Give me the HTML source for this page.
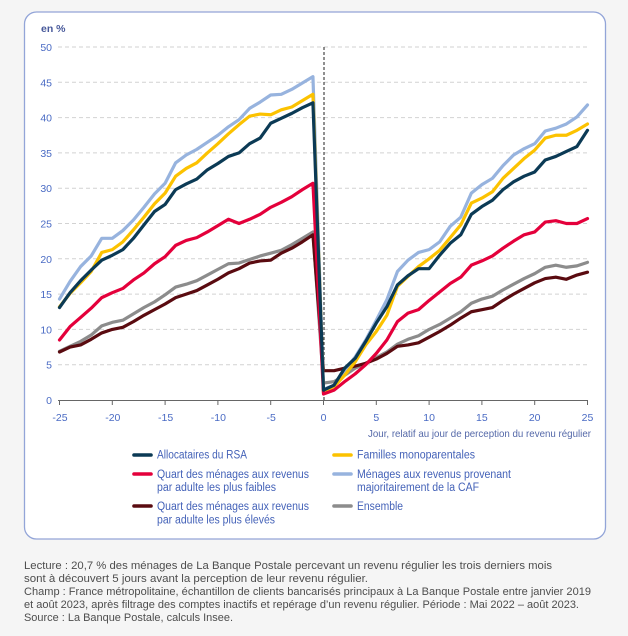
<!DOCTYPE html>
<html><head><meta charset="utf-8">
<style>
html,body{margin:0;padding:0;background:#f5f5f5;}
svg{display:block;}
text{font-family:"Liberation Sans",Arial,sans-serif;}
</style></head>
<body>
<svg width="628" height="636" viewBox="0 0 628 636" xmlns="http://www.w3.org/2000/svg">
<rect x="0" y="0" width="628" height="636" fill="#f5f5f5"/>
<rect x="24.5" y="12" width="581" height="527" rx="12" ry="12" fill="#ffffff" stroke="#93a5d8" stroke-width="1.3"/>

<text x="41" y="32" font-size="10.5" font-weight="bold" fill="#47589a">en %</text>

<!-- gridlines -->
<g stroke="#d2d2d2" stroke-width="1" stroke-dasharray="4,3">
<line x1="58" x2="588" y1="364.7" y2="364.7"/>
<line x1="58" x2="588" y1="329.4" y2="329.4"/>
<line x1="58" x2="588" y1="294.1" y2="294.1"/>
<line x1="58" x2="588" y1="258.8" y2="258.8"/>
<line x1="58" x2="588" y1="223.5" y2="223.5"/>
<line x1="58" x2="588" y1="188.2" y2="188.2"/>
<line x1="58" x2="588" y1="152.9" y2="152.9"/>
<line x1="58" x2="588" y1="117.6" y2="117.6"/>
<line x1="58" x2="588" y1="82.3" y2="82.3"/>
<line x1="58" x2="588" y1="47" y2="47"/>
</g>

<!-- y labels -->
<g font-size="10.5" fill="#4a6bc4" text-anchor="end">
<text x="52" y="404">0</text>
<text x="52" y="368.7">5</text>
<text x="52" y="333.4">10</text>
<text x="52" y="298.1">15</text>
<text x="52" y="262.8">20</text>
<text x="52" y="227.5">25</text>
<text x="52" y="192.2">30</text>
<text x="52" y="156.9">35</text>
<text x="52" y="121.6">40</text>
<text x="52" y="86.3">45</text>
<text x="52" y="51">50</text>
</g>

<!-- zero dashed vertical -->
<line x1="324" x2="324" y1="47" y2="400" stroke="#222" stroke-width="1" stroke-dasharray="3,2"/>

<!-- series -->
<g transform="matrix(10.56 0 0 -7.06 323.5 400)" fill="none" stroke-linejoin="round" stroke-linecap="round">
<polyline vector-effect="non-scaling-stroke" stroke="#8c8c8c" stroke-width="3.2" points="-25,6.9 -24,7.6 -23,8.3 -22,9.2 -21,10.5 -20,11.0 -19,11.3 -18,12.2 -17,13.1 -16,13.9 -15,14.9 -14,16.0 -13,16.4 -12,16.9 -11,17.7 -10,18.5 -9,19.3 -8,19.4 -7,19.9 -6,20.4 -5,20.8 -4,21.2 -3,22.0 -2,22.9 -1,23.8 0,2.4 1,2.6 2,3.5 3,4.5 4,5.2 5,6.0 6,6.8 7,7.9 8,8.6 9,9.1 10,10.0 11,10.7 12,11.6 13,12.5 14,13.7 15,14.3 16,14.7 17,15.6 18,16.4 19,17.2 20,17.9 21,18.8 22,19.1 23,18.8 24,19.0 25,19.5"/>
<polyline vector-effect="non-scaling-stroke" stroke="#5a0b10" stroke-width="3.2" points="-25,6.8 -24,7.5 -23,7.8 -22,8.6 -21,9.5 -20,10.0 -19,10.3 -18,11.1 -17,12.0 -16,12.8 -15,13.6 -14,14.5 -13,15.0 -12,15.5 -11,16.3 -10,17.1 -9,18.0 -8,18.6 -7,19.4 -6,19.7 -5,19.8 -4,20.8 -3,21.5 -2,22.4 -1,23.4 0,4.15 1,4.15 2,4.5 3,4.8 4,5.2 5,5.8 6,6.6 7,7.6 8,7.8 9,8.1 10,8.9 11,9.7 12,10.6 13,11.6 14,12.5 15,12.8 16,13.1 17,14.1 18,15.0 19,15.8 20,16.6 21,17.2 22,17.4 23,17.1 24,17.7 25,18.1"/>
<polyline vector-effect="non-scaling-stroke" stroke="#97b3de" stroke-width="3.2" points="-25,14.3 -24,16.8 -23,18.9 -22,20.4 -21,22.9 -20,22.9 -19,24.0 -18,25.5 -17,27.3 -16,29.2 -15,30.7 -14,33.6 -13,34.7 -12,35.5 -11,36.5 -10,37.5 -9,38.7 -8,39.7 -7,41.3 -6,42.2 -5,43.2 -4,43.3 -3,44.0 -2,44.9 -1,45.8 0,1.5 1,2.1 2,4.2 3,6.1 4,8.5 5,11.3 6,14.2 7,18.2 8,19.8 9,20.9 10,21.3 11,22.4 12,24.6 13,25.9 14,29.3 15,30.5 16,31.4 17,33.2 18,34.7 19,35.6 20,36.3 21,38.1 22,38.5 23,39.1 24,40.1 25,41.8"/>
<polyline vector-effect="non-scaling-stroke" stroke="#fcc200" stroke-width="3.2" points="-25,13.2 -24,15.1 -23,16.6 -22,18.2 -21,20.9 -20,21.3 -19,22.4 -18,24.1 -17,25.9 -16,27.8 -15,29.3 -14,31.7 -13,32.8 -12,33.6 -11,35.0 -10,36.3 -9,37.7 -8,39.0 -7,40.2 -6,40.5 -5,40.4 -4,41.1 -3,41.5 -2,42.4 -1,43.3 0,1.0 1,1.9 2,3.5 3,5.4 4,7.8 5,9.7 6,12.0 7,16.1 8,17.5 9,18.9 10,20.0 11,21.2 12,23.0 13,24.8 14,27.9 15,28.6 16,29.5 17,31.4 18,32.8 19,34.2 20,35.4 21,37.1 22,37.5 23,37.5 24,38.2 25,39.1"/>
<polyline vector-effect="non-scaling-stroke" stroke="#e4003b" stroke-width="3.2" points="-25,8.5 -24,10.4 -23,11.7 -22,13.0 -21,14.5 -20,15.2 -19,15.8 -18,17.0 -17,18.0 -16,19.3 -15,20.3 -14,21.9 -13,22.6 -12,23.0 -11,23.8 -10,24.7 -9,25.6 -8,25.0 -7,25.6 -6,26.3 -5,27.3 -4,28.0 -3,28.8 -2,29.8 -1,30.7 0,0.85 1,1.4 2,2.6 3,3.7 4,5.0 5,6.6 6,8.5 7,11.1 8,12.3 9,12.8 10,14.1 11,15.3 12,16.5 13,17.4 14,19.1 15,19.7 16,20.4 17,21.5 18,22.5 19,23.4 20,23.8 21,25.2 22,25.4 23,25.0 24,25.0 25,25.7"/>
<polyline vector-effect="non-scaling-stroke" stroke="#0b3a55" stroke-width="3.2" points="-25,13.1 -24,15.2 -23,16.9 -22,18.4 -21,19.8 -20,20.5 -19,21.3 -18,22.9 -17,24.8 -16,26.7 -15,27.7 -14,29.8 -13,30.6 -12,31.3 -11,32.6 -10,33.5 -9,34.5 -8,35.0 -7,36.3 -6,37.1 -5,39.2 -4,39.9 -3,40.6 -2,41.4 -1,42.1 0,1.4 1,2.1 2,4.5 3,5.9 4,8.3 5,10.9 6,13.2 7,16.3 8,17.6 9,18.6 10,18.6 11,20.5 12,22.2 13,23.4 14,26.3 15,27.4 16,28.3 17,29.8 18,30.9 19,31.7 20,32.3 21,34.0 22,34.5 23,35.2 24,35.9 25,38.2"/>
</g>

<!-- x axis -->
<line x1="58" x2="588" y1="400.5" y2="400.5" stroke="#666" stroke-width="1"/>
<g stroke="#666" stroke-width="1">
<line x1="59.5" x2="59.5" y1="400" y2="405"/>
<line x1="112.3" x2="112.3" y1="400" y2="405"/>
<line x1="165.1" x2="165.1" y1="400" y2="405"/>
<line x1="217.9" x2="217.9" y1="400" y2="405"/>
<line x1="270.7" x2="270.7" y1="400" y2="405"/>
<line x1="323.5" x2="323.5" y1="400" y2="405"/>
<line x1="376.3" x2="376.3" y1="400" y2="405"/>
<line x1="429.1" x2="429.1" y1="400" y2="405"/>
<line x1="481.9" x2="481.9" y1="400" y2="405"/>
<line x1="534.7" x2="534.7" y1="400" y2="405"/>
<line x1="587.5" x2="587.5" y1="400" y2="405"/>
</g>
<g font-size="10.5" fill="#4a6bc4" text-anchor="middle">
<text x="60" y="421">-25</text>
<text x="112.8" y="421">-20</text>
<text x="165.6" y="421">-15</text>
<text x="218.4" y="421">-10</text>
<text x="271.2" y="421">-5</text>
<text x="323.5" y="421">0</text>
<text x="376.3" y="421">5</text>
<text x="429.1" y="421">10</text>
<text x="481.9" y="421">15</text>
<text x="534.7" y="421">20</text>
<text x="587.5" y="421">25</text>
</g>
<text x="368" y="437" font-size="10.5" fill="#5468a8" textLength="223" lengthAdjust="spacingAndGlyphs">Jour, relatif au jour de perception du revenu régulier</text>

<!-- legend -->
<g stroke-width="3.6" stroke-linecap="round">
<line x1="134" x2="151" y1="455" y2="455" stroke="#0b3a55"/>
<line x1="334" x2="351" y1="455" y2="455" stroke="#fcc200"/>
<line x1="134" x2="151" y1="474" y2="474" stroke="#e4003b"/>
<line x1="334" x2="351" y1="474" y2="474" stroke="#97b3de"/>
<line x1="134" x2="151" y1="506" y2="506" stroke="#5a0b10"/>
<line x1="334" x2="351" y1="506" y2="506" stroke="#8c8c8c"/>
</g>
<g font-size="11.5" fill="#4462b8">
<text x="157" y="458.5" textLength="90" lengthAdjust="spacingAndGlyphs">Allocataires du RSA</text>
<text x="357" y="458.5" textLength="118" lengthAdjust="spacingAndGlyphs">Familles monoparentales</text>
<text x="157" y="478" textLength="152" lengthAdjust="spacingAndGlyphs">Quart des ménages aux revenus</text>
<text x="157" y="491" textLength="119" lengthAdjust="spacingAndGlyphs">par adulte les plus faibles</text>
<text x="357" y="478" textLength="154" lengthAdjust="spacingAndGlyphs">Ménages aux revenus provenant</text>
<text x="357" y="491" textLength="122" lengthAdjust="spacingAndGlyphs">majoritairement de la CAF</text>
<text x="157" y="510" textLength="152" lengthAdjust="spacingAndGlyphs">Quart des ménages aux revenus</text>
<text x="157" y="523.5" textLength="118" lengthAdjust="spacingAndGlyphs">par adulte les plus élevés</text>
<text x="357" y="510" textLength="46" lengthAdjust="spacingAndGlyphs">Ensemble</text>
</g>

<!-- footnote -->
<g font-size="11" fill="#4d4d4d">
<text x="24" y="569" textLength="528" lengthAdjust="spacingAndGlyphs">Lecture : 20,7 % des ménages de La Banque Postale percevant un revenu régulier les trois derniers mois</text>
<text x="24" y="582" textLength="344" lengthAdjust="spacingAndGlyphs">sont à découvert 5 jours avant la perception de leur revenu régulier.</text>
<text x="24" y="595" textLength="567" lengthAdjust="spacingAndGlyphs">Champ : France métropolitaine, échantillon de clients bancarisés principaux à La Banque Postale entre janvier 2019</text>
<text x="24" y="608" textLength="555" lengthAdjust="spacingAndGlyphs">et août 2023, après filtrage des comptes inactifs et repérage d’un revenu régulier. Période : Mai 2022 – août 2023.</text>
<text x="24" y="621" textLength="209" lengthAdjust="spacingAndGlyphs">Source : La Banque Postale, calculs Insee.</text>
</g>
</svg>
</body></html>
